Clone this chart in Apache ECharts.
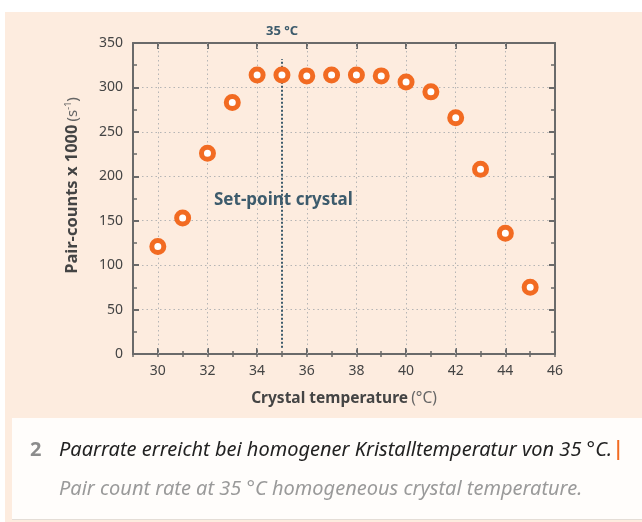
<!DOCTYPE html>
<html>
<head>
<meta charset="utf-8">
<script src="https://cdn.jsdelivr.net/npm/echarts@6/dist/echarts.min.js"></script>
<style>
  html, body { margin: 0; padding: 0; background: #fff; }
  #chart { width: 642px; height: 522px; }
</style>
</head>
<body>
<div id="chart"></div>
<script>
// crystal temperature (°C) and measured pair counts (x1000 per second)
const temps = [30, 31, 32, 33, 34, 35, 36, 37, 38, 39, 40, 41, 42, 43, 44, 45];
const pairCounts = [121, 153, 226, 283, 314, 314, 313, 314, 314, 313, 306, 295, 266, 208, 136, 75];
const xMajorTicks = [30, 32, 34, 36, 38, 40, 42, 44, 46];
const setPoint = 35;

const orange = '#f26b22';
const axisGrey = '#6a6a6a';
const slate = '#3d5b6c';
const font = 'Noto Sans';

const chart = echarts.init(document.getElementById('chart'));

const dotted = { color: '#b5b5b5', type: [1.5, 3], width: 1 };

const option = {
  backgroundColor: '#fff',
  textStyle: { fontFamily: font },
  animation: false,
  graphic: [
    { type: 'rect', z: -10, shape: { x: 5, y: 12, width: 640, height: 512 }, style: { fill: '#fdecdf' } },
    { type: 'rect', z: -9, shape: { x: 12, y: 418, width: 632, height: 102 }, style: { fill: '#fffdfb' } },
    { type: 'rect', z: -8, shape: { x: 12, y: 519, width: 632, height: 1 }, style: { fill: '#e4ddd6' } },
    {
      type: 'text', x: 282, y: 31,
      style: { text: setPoint + ' °C', font: 'bold 13px "Noto Sans"', fill: slate, align: 'center', verticalAlign: 'middle' }
    },
    {
      type: 'text', x: 214, y: 200, z: 10,
      style: { text: 'Set-point crystal', font: 'bold 17px "Noto Sans"', fill: slate, verticalAlign: 'middle' }
    },
    {
      type: 'text', x: 30, y: 450,
      style: { text: '2', font: 'bold 20px "Noto Sans"', fill: '#8c8c8c', verticalAlign: 'middle' }
    },
    {
      type: 'text', x: 59, y: 450,
      style: {
        text: '{t|Paarrate erreicht bei homogener Kristalltemperatur von 35 °C. }{bar|}',
        verticalAlign: 'middle',
        rich: {
          t: { font: 'italic 20px "Noto Sans"', fill: '#222' },
          bar: { backgroundColor: orange, width: 2, height: 20 }
        }
      }
    },
    {
      type: 'text', x: 59, y: 489,
      style: { text: 'Pair count rate at 35 °C homogeneous crystal temperature.', font: 'italic 20px "Noto Sans"', fill: '#9a9a9a', verticalAlign: 'middle' }
    }
  ],
  grid: { left: 133, right: 87, top: 43, bottom: 168, containLabel: false },
  xAxis: [
    {
      type: 'value', position: 'bottom', min: 29, max: 46, interval: 1,
      name: '{b|Crystal temperature} {n|(°C)}',
      nameLocation: 'middle', nameGap: 37,
      nameTextStyle: {
        rich: {
          b: { fontFamily: font, fontWeight: 'bold', fontSize: 15.5, color: '#444' },
          n: { fontFamily: font, fontSize: 15.5, color: '#666' }
        }
      },
      axisLine: { show: true, onZero: false, lineStyle: { color: axisGrey, width: 2 } },
      axisTick: { show: true, inside: true, length: 6, customValues: xMajorTicks, lineStyle: { color: axisGrey, width: 2 } },
      axisLabel: { customValues: xMajorTicks, color: '#444', fontSize: 14, margin: 10 },
      splitLine: { show: false }
    },
    {
      type: 'value', position: 'bottom', min: 29, max: 46, interval: 1,
      axisLine: { show: false },
      axisTick: { show: true, inside: true, length: 3, lineStyle: { color: axisGrey, width: 1.5 } },
      axisLabel: { show: false }, splitLine: { show: false }
    },
    {
      type: 'value', position: 'top', min: 29, max: 46, interval: 1,
      axisLine: { show: true, onZero: false, lineStyle: { color: axisGrey, width: 2 } },
      axisTick: { show: true, inside: true, length: 6, customValues: xMajorTicks, lineStyle: { color: axisGrey, width: 2 } },
      axisLabel: { show: false }, splitLine: { show: false }
    },
    {
      type: 'value', position: 'top', min: 29, max: 46, interval: 1,
      axisLine: { show: false },
      axisTick: { show: true, inside: true, length: 3, lineStyle: { color: axisGrey, width: 1.5 } },
      axisLabel: { show: false }, splitLine: { show: false }
    }
  ],
  yAxis: [
    {
      type: 'value', position: 'left', min: 0, max: 350, interval: 50,
      name: '{b|Pair-counts x 1000} {n|(s}{sup|-1}{n|)}',
      nameLocation: 'middle', nameGap: 52,
      nameTextStyle: {
        padding: [0, 0, 0, 26],
        rich: {
          b: { fontFamily: font, fontWeight: 'bold', fontSize: 16.5, color: '#444' },
          n: { fontFamily: font, fontSize: 15, color: '#666' },
          sup: { fontFamily: font, fontSize: 9, color: '#666', verticalAlign: 'top', padding: [0, 0, 6, 0] }
        }
      },
      axisLine: { show: true, onZero: false, lineStyle: { color: axisGrey, width: 2 } },
      axisTick: { show: true, inside: true, length: 6, lineStyle: { color: axisGrey, width: 2 } },
      minorTick: { show: true, splitNumber: 2, length: 4, lineStyle: { color: axisGrey, width: 1.5 } },
      axisLabel: { color: '#444', fontSize: 14, margin: 10 },
      splitLine: { show: true, lineStyle: dotted }
    },
    {
      type: 'value', position: 'right', min: 0, max: 350, interval: 50,
      axisLine: { show: true, onZero: false, lineStyle: { color: axisGrey, width: 2 } },
      axisTick: { show: true, inside: true, length: 6, lineStyle: { color: axisGrey, width: 2 } },
      minorTick: { show: true, splitNumber: 2, length: 4, lineStyle: { color: axisGrey, width: 1.5 } },
      axisLabel: { show: false }, splitLine: { show: false }
    }
  ],
  series: [
    {
      // vertical grid lines at the labelled temperatures only
      type: 'scatter', data: [], silent: true, z: 1,
      markLine: {
        silent: true, symbol: 'none', label: { show: false },
        lineStyle: dotted,
        data: xMajorTicks.slice(0, -1).map(v => ({ xAxis: v }))
      }
    },
    {
      type: 'scatter',
      xAxisIndex: 0, yAxisIndex: 0,
      data: temps.map((t, i) => [t, pairCounts[i]]),
      symbol: 'circle',
      symbolSize: 12,
      itemStyle: { color: '#fff', borderColor: orange, borderWidth: 5, opacity: 1 },
      z: 5,
      markLine: {
        silent: true,
        symbol: 'none',
        label: { show: false },
        lineStyle: { color: slate, type: [2, 2], width: 2 },
        data: [[{ coord: [setPoint, 7] }, { coord: [setPoint, 332] }]]
      }
    }
  ]
};

chart.setOption(option);
</script>
</body>
</html>
